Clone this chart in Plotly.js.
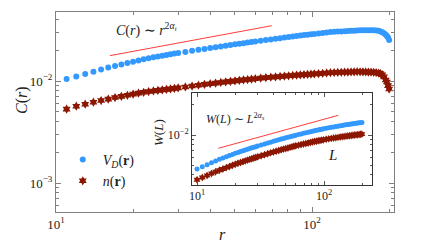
<!DOCTYPE html>
<html>
<head>
<meta charset="utf-8">
<script src="https://cdn.plot.ly/plotly-3.0.1.min.js"></script>
<style>html,body{margin:0;padding:0;background:#fff}#chart{width:436px;height:245px}</style>
</head>
<body>
<div id="chart"></div>
<script>
// main panel: correlation C(r)
const r = [11,12,13,14,15,16,17,18,19,20,21,22,23,24,25,26,27,28,29,30,
  32,34,36,38,40,42,44,46,48,50,52,54,56,58,60,
  63,66,69,72,75,78,81,84,87,90,93,96,99,
  102,106,110,114,118,122,126,130,134,138,142,146,150,154,158,162,166,170,174,178,182,
  185,188,191,194,196,198,200];
const C_VD = [0.01044,0.01110,0.01174,0.01235,0.01296,0.01356,0.01407,0.01455,0.01503,0.01547,0.01590,0.01633,0.01673,0.01705,0.01737,0.01767,0.01797,0.01827,0.01856,0.01881,
  0.01929,0.01976,0.02021,0.02064,0.02104,0.02143,0.02181,0.02219,0.02254,0.02289,0.02321,0.02351,0.02380,0.02409,0.02437,
  0.02478,0.02518,0.02556,0.02594,0.02631,0.02667,0.02702,0.02735,0.02768,0.02797,0.02822,0.02848,0.02872,
  0.02897,0.02928,0.02959,0.02989,0.03017,0.03038,0.03052,0.03066,0.03079,0.03092,0.03105,0.03117,0.03129,0.03141,0.03148,0.03147,0.03146,0.03144,0.03142,0.03130,0.03104,
  0.03057,0.03005,0.02934,0.02840,0.02757,0.02666,0.02523];
const C_n = [0.005302,0.005661,0.005925,0.006196,0.006439,0.006639,0.006884,0.007077,0.007247,0.007439,0.007607,0.007757,0.007889,0.007990,0.008091,0.008189,0.008283,0.008375,0.008466,0.008560,
  0.008747,0.008928,0.009099,0.009267,0.009408,0.009544,0.009674,0.009804,0.009924,0.010043,0.010146,0.010247,0.010342,0.010435,0.010531,
  0.010662,0.010790,0.010889,0.010985,0.011076,0.011166,0.011254,0.011337,0.011419,0.011493,0.011559,0.011625,0.011687,
  0.011749,0.011830,0.011910,0.011984,0.012059,0.012106,0.012143,0.012176,0.012207,0.012238,0.012269,0.012300,0.012328,0.012317,0.012289,0.012260,0.012235,0.012210,0.012184,0.012109,0.011973,
  0.011826,0.011511,0.010980,0.010228,0.009770,0.009000,0.008348];
const fitR = [16.26, 69.6];
const fitC = [0.01774, 0.03485];

// inset: W(L)
const L = [10,11,12,13,14,15,16,17,18,19,20,21,22,23,24,25,26,27,28,29,30,
  32,34,36,38,40,42,44,46,48,50,52,54,56,58,60,
  63,66,69,72,75,78,81,84,87,90,93,96,99,
  104,109,114,119,124,129,134,139,144,149,154,159,164,169,174,179,184,189,194,199];
const W_VD = [0.004571,0.004819,0.005054,0.005281,0.005501,0.005705,0.005884,0.006063,0.006230,0.006397,0.006557,0.006691,0.006825,0.006950,0.007078,0.007196,0.007318,0.007435,0.007542,0.007643,0.007746,
  0.007939,0.008131,0.008318,0.008482,0.008646,0.008795,0.008948,0.009098,0.009233,0.009363,0.009483,0.009605,0.009723,0.009840,0.009949,
  0.010109,0.010257,0.010397,0.010537,0.010668,0.010799,0.010926,0.011037,0.011137,0.011237,0.011333,0.011430,0.011517,
  0.011672,0.011810,0.011941,0.012054,0.012163,0.012264,0.012366,0.012469,0.012561,0.012654,0.012739,0.012812,0.012886,0.012955,0.013024,0.013093,0.013159,0.013223,0.013290,0.013351];
const W_n = [0.003573,0.003763,0.003943,0.004117,0.004285,0.004440,0.004579,0.004718,0.004848,0.004977,0.005102,0.005208,0.005314,0.005414,0.005514,0.005609,0.005704,0.005798,0.005883,0.005965,0.006046,
  0.006200,0.006354,0.006502,0.006631,0.006761,0.006882,0.007004,0.007123,0.007228,0.007330,0.007427,0.007523,0.007615,0.007709,0.007795,
  0.007916,0.008026,0.008128,0.008234,0.008329,0.008427,0.008523,0.008602,0.008674,0.008746,0.008815,0.008884,0.008946,
  0.009054,0.009152,0.009244,0.009321,0.009397,0.009467,0.009537,0.009610,0.009674,0.009739,0.009795,0.009845,0.009895,0.009940,0.009986,0.010032,0.010074,0.010118,0.010163,0.010202];
const fitL = [14.72, 129.6];
const fitW = [0.007362, 0.01574];

const xTickVals = [10, 100];
const xTickText = ['10<sup>1</sup>', '10<sup>2</sup>'];
const yTickVals = [0.001, 0.01];
const yTickText = ['10<sup>−3</sup>', '10<sup>−2</sup>'];
const xMinor = [20,30,40,50,60,70,80,90,200];
const yMinor = [0.0006,0.0007,0.0008,0.0009,0.002,0.003,0.004,0.005,0.006,0.007,0.008,0.009,0.02,0.03,0.04];
const insetYTickVals = [0.01];
const insetYTickText = ['10<sup>−2</sup>'];
const insetYMinor = [0.003,0.004,0.005,0.006,0.007,0.008,0.009,0.02];

const blue = 'rgb(51,153,255)';
const dred = 'rgb(140,22,0)';
const fitColor = 'rgb(255,60,60)';

const traces = [
  {x: r, y: C_VD, type: 'scatter', mode: 'markers', name: '<i>V</i><sub><i>D</i></sub>(<b>r</b>)',
   marker: {color: blue, size: 6, symbol: 'circle'}, xaxis: 'x', yaxis: 'y', legendgroup: 'a'},
  {x: r, y: C_n, type: 'scatter', mode: 'markers', name: '<i>n</i>(<b>r</b>)',
   marker: {color: dred, size: 7, symbol: 'hexagram'}, xaxis: 'x', yaxis: 'y', legendgroup: 'b'},
  {x: fitR, y: fitC, type: 'scatter', mode: 'lines', line: {color: fitColor, width: 1}, showlegend: false, xaxis: 'x', yaxis: 'y'},
  {x: L, y: W_VD, type: 'scatter', mode: 'markers', marker: {color: blue, size: 5, symbol: 'circle'}, showlegend: false, xaxis: 'x2', yaxis: 'y2'},
  {x: L, y: W_n, type: 'scatter', mode: 'markers', marker: {color: dred, size: 6, symbol: 'hexagram'}, showlegend: false, xaxis: 'x2', yaxis: 'y2'},
  {x: fitL, y: fitW, type: 'scatter', mode: 'lines', line: {color: fitColor, width: 1}, showlegend: false, xaxis: 'x2', yaxis: 'y2'}
];

const axisCommon = {
  showgrid: false, zeroline: false, showline: true, linecolor: '#808080', linewidth: 1,
  ticks: 'inside', ticklen: 5, tickcolor: '#808080', mirror: 'ticks', tickfont: {size: 13, color: '#222'}
};

const ann = (text, x, y, size, angle) => ({text, xref: 'paper', yref: 'paper', x, y, xanchor: 'center', yanchor: 'middle',
  textangle: angle || 0, showarrow: false, font: {size}});

const layout = {
  width: 436, height: 245,
  margin: {l: 56, r: 42, t: 12, b: 33},
  paper_bgcolor: '#fff', plot_bgcolor: '#fff',
  font: {family: 'Liberation Serif, serif', color: '#222'},
  showlegend: true,
  legend: {x: 0.02, y: 0.34, xanchor: 'left', yanchor: 'top', bgcolor: 'rgba(0,0,0,0)',
           font: {size: 14, color: '#222'}, tracegroupgap: 0, itemwidth: 30},
  xaxis: Object.assign({}, axisCommon, {type: 'log', range: [1, 2.32], tickvals: xTickVals, ticktext: xTickText,
    minor: {tickvals: xMinor, ticks: 'inside', ticklen: 3, tickcolor: '#808080'}, domain: [0, 1], anchor: 'y'}),
  yaxis: Object.assign({}, axisCommon, {type: 'log', range: [-3.284, -1.3235], tickvals: yTickVals, ticktext: yTickText,
    minor: {tickvals: yMinor, ticks: 'inside', ticklen: 3, tickcolor: '#808080'}, domain: [0, 1], anchor: 'x'}),
  xaxis2: Object.assign({}, axisCommon, {type: 'log', range: [0.9606, 2.378], tickvals: xTickVals, ticktext: xTickText,
    linecolor: '#333', tickcolor: '#555', ticklen: 4, tickfont: {size: 12, color: '#222'},
    minor: {tickvals: xMinor, ticks: 'inside', ticklen: 2, tickcolor: '#555'}, domain: [0.4024, 0.9349], anchor: 'y2'}),
  yaxis2: Object.assign({}, axisCommon, {type: 'log', range: [-2.50, -1.575], tickvals: insetYTickVals, ticktext: insetYTickText,
    linecolor: '#333', tickcolor: '#555', ticklen: 4, tickfont: {size: 12, color: '#222'},
    minor: {tickvals: insetYMinor, ticks: 'inside', ticklen: 2, tickcolor: '#555'}, domain: [0.135, 0.5975], anchor: 'x2'}),
  annotations: [
    ann('<i>C</i>(<i>r</i>)', -0.1006, 0.56, 16, -90),
    ann('<i>r</i>', 0.494, -0.11, 16),
    ann('<i>C</i>(<i>r</i>) ∼ <i>r</i><sup>2<i>α<sub>t</sub></i></sup>', 0.269, 0.91, 14),
    ann('<i>W</i>(<i>L</i>)', 0.3018, 0.395, 13, -90),
    ann('<i>W</i>(<i>L</i>) ∼ <i>L</i><sup>2<i>α<sub>s</sub></i></sup>', 0.5325, 0.465, 12),
    ann('<i>L</i>', 0.8195, 0.285, 15)
  ]
};

Plotly.newPlot('chart', traces, layout, {staticPlot: true, displayModeBar: false});
</script>
</body>
</html>
